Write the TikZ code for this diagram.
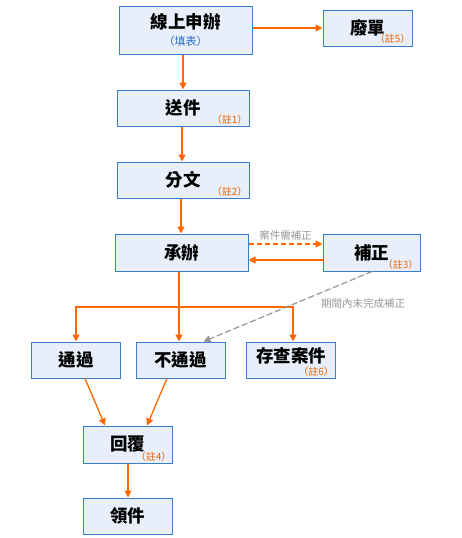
\documentclass[tikz,border=0pt]{standalone}
\usepackage{fontspec}
\setmainfont{Noto Sans CJK TC}
\usetikzlibrary{arrows.meta,positioning}
\definecolor{boxblue}{RGB}{58,125,205}
\definecolor{boxfill}{RGB}{233,239,250}
\definecolor{floworange}{RGB}{255,102,0}
\definecolor{noteorange}{RGB}{240,100,0}
\definecolor{hintgray}{RGB}{150,150,150}
\definecolor{hintblue}{RGB}{40,110,200}

\begin{document}
\begin{tikzpicture}[x=1pt,y=-1pt,
    stepbox/.style={rectangle,draw=boxblue,fill=boxfill,line width=1pt,inner sep=0pt,
      minimum width=89pt,minimum height=36pt,align=center,
      font=\fontsize{17.5}{19}\selectfont\bfseries},
    widebox/.style={stepbox,minimum width=133pt},
    note/.style={anchor=south east,inner sep=0pt,text=noteorange,
      font=\fontsize{10}{11}\selectfont},
    hint/.style={inner sep=1pt,text=hintgray,font=\fontsize{10.5}{12}\selectfont},
    arrow/.style={-{Triangle[length=7pt,width=7pt]},draw=floworange,line width=1.3pt},
    dasharrow/.style={arrow,dash pattern=on 5pt off 3pt},
    grayarrow/.style={-{Triangle[length=7pt,width=7pt]},draw=hintgray,fill=hintgray,
      line width=1.2pt,dash pattern=on 6pt off 3pt}
  ]
    \useasboundingbox (0,0) rectangle (461,538);

    \node[widebox,minimum height=48pt] (apply) at (185.5,30)
      {線上申辦\\[-2pt]{\fontsize{11}{12}\selectfont\mdseries\color{hintblue}（填表）}};
    \node[stepbox] (cancel) at (367.5,28) {廢單};
    \node[widebox,minimum width=132pt] (send) at (183,108) {送件};
    \node[widebox,minimum width=132pt] (assign) at (183,180) {分文};
    \node[widebox,minimum height=37pt] (handle) at (181.5,252.5) {承辦};
    \node[stepbox,minimum width=97pt,minimum height=37pt] (amend) at (371.5,252.5) {補正};
    \node[stepbox] (pass) at (76,360) {通過};
    \node[stepbox] (fail) at (180.5,360) {不通過};
    \node[stepbox,text depth=10pt] (archive) at (291,360) {存查案件};
    \node[stepbox,minimum height=37pt] (reply) at (127.5,444.5) {回覆};
    \node[stepbox] (collect) at (127.5,516) {領件};

    % remarks
    \node[note] (cancelnote) at ([xshift=-2pt,yshift=3pt]cancel.south east) {（註5）};
    \node[note] (sendnote) at ([xshift=-2pt,yshift=2pt]send.south east) {（註1）};
    \node[note] (assignnote) at ([xshift=-2pt,yshift=2pt]assign.south east) {（註2）};
    \node[note] (amendnote) at ([xshift=-2pt,yshift=2pt]amend.south east) {（註3）};
    \node[note] (archivenote) at ([xshift=-2pt,yshift=2pt]archive.south east) {（註6）};
    \node[note] (replynote) at ([xshift=-1pt,yshift=2pt]reply.south east) {（註4）};

    \draw[arrow] (apply.east |- cancel.west) -- (cancel.west);
    \draw[arrow] (apply.south -| send.north) -- (send.north);
    \draw[arrow] (send.south -| 182,0) -- (assign.north -| 182,0);
    \draw[arrow] (assign.south -| 181,0) -- (handle.north -| 181,0);

    \draw[dasharrow] ([yshift=8.5pt]handle.east) -- ([yshift=8.5pt]handle.east -| amend.west)
      node[midway,above=2pt,hint] (amendhint) {案件需補正};
    \draw[arrow] ([yshift=-7.5pt]amend.west) -- ([yshift=-7.5pt]amend.west -| handle.east);

    \coordinate (fork) at (179,307);
    \draw[arrow] (handle.south -| fork) -- (fail.north -| fork);
    \draw[arrow] (fork) -| (pass.north);
    \draw[arrow] (fork) -| ([xshift=2pt]archive.north);
    \draw[grayarrow] ([xshift=0.5pt]amend.south) -- ([xshift=23pt]fail.north);
    \node[hint] (latehint) at (363,303) {期間內未完成補正};

    \draw[arrow] ([xshift=9pt]pass.south) -- ([xshift=-22.5pt]reply.north);
    \draw[arrow] ([xshift=-13.5pt]fail.south) -- ([xshift=19.5pt]reply.north);
    \draw[arrow] (reply.south -| 128,0) -- (collect.north -| 128,0);
  \end{tikzpicture}
\end{document}
